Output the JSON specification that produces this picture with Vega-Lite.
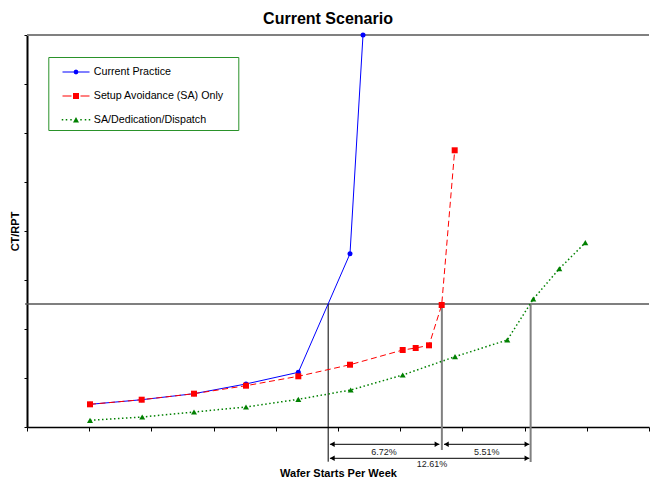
{
  "$schema": "https://vega.github.io/schema/vega-lite/v6.json",
  "width": 622,
  "height": 392,
  "autosize": {"type": "none"},
  "padding": {"left": 27, "top": 35, "right": 1, "bottom": 52},
  "background": "white",
  "title": {"text": "Current Scenario", "font": "Liberation Sans", "fontSize": 16, "fontWeight": "bold", "color": "black", "offset": 6, "anchor": "middle", "dx": -10},
  "config": {
    "view": {"stroke": null},
    "font": "Liberation Sans",
    "axis": {"grid": false, "labels": false, "domainColor": "black", "tickColor": "black", "titleFont": "Liberation Sans", "titleFontWeight": "bold", "titleFontSize": 11, "titleColor": "black"}
  },
  "datasets": {
    "series": [
      {"series": "Current Practice", "x": 101.3, "y": 4.63},
      {"series": "Current Practice", "x": 184.4, "y": 5.57},
      {"series": "Current Practice", "x": 268.5, "y": 6.8},
      {"series": "Current Practice", "x": 352.1, "y": 8.78},
      {"series": "Current Practice", "x": 436.2, "y": 11.16},
      {"series": "Current Practice", "x": 519.3, "y": 35.37},
      {"series": "Current Practice", "x": 540.2, "y": 80},
      {"series": "Setup Avoidance (SA) Only", "x": 101.3, "y": 4.63},
      {"series": "Setup Avoidance (SA) Only", "x": 184.4, "y": 5.57},
      {"series": "Setup Avoidance (SA) Only", "x": 268.5, "y": 6.8},
      {"series": "Setup Avoidance (SA) Only", "x": 352.1, "y": 8.43},
      {"series": "Setup Avoidance (SA) Only", "x": 436.2, "y": 10.35},
      {"series": "Setup Avoidance (SA) Only", "x": 519.3, "y": 12.71},
      {"series": "Setup Avoidance (SA) Only", "x": 604, "y": 15.71},
      {"series": "Setup Avoidance (SA) Only", "x": 624.9, "y": 16.12},
      {"series": "Setup Avoidance (SA) Only", "x": 646.3, "y": 16.67},
      {"series": "Setup Avoidance (SA) Only", "x": 666.7, "y": 24.9},
      {"series": "Setup Avoidance (SA) Only", "x": 687.6, "y": 56.47},
      {"series": "SA/Dedication/Dispatch", "x": 101.3, "y": 1.37},
      {"series": "SA/Dedication/Dispatch", "x": 185.2, "y": 2.04},
      {"series": "SA/Dedication/Dispatch", "x": 268.5, "y": 3.06},
      {"series": "SA/Dedication/Dispatch", "x": 352.1, "y": 4.08},
      {"series": "SA/Dedication/Dispatch", "x": 436.2, "y": 5.65},
      {"series": "SA/Dedication/Dispatch", "x": 520.4, "y": 7.55},
      {"series": "SA/Dedication/Dispatch", "x": 604, "y": 10.61},
      {"series": "SA/Dedication/Dispatch", "x": 688.1, "y": 14.35},
      {"series": "SA/Dedication/Dispatch", "x": 772.2, "y": 17.76},
      {"series": "SA/Dedication/Dispatch", "x": 814, "y": 26.12},
      {"series": "SA/Dedication/Dispatch", "x": 855.8, "y": 32.3},
      {"series": "SA/Dedication/Dispatch", "x": 897.6, "y": 37.61}
    ],
    "frame": [{"x": 0, "x2": 1000, "y": 80}],
    "threshold": [{"x": -3, "x2": 1000, "y": 25.1}],
    "crossings": [
      {"series": "Current Practice", "x": 484.2, "y": 25.1, "y2": -7.08},
      {"series": "Setup Avoidance (SA) Only", "x": 667, "y": 25.1, "y2": -4.69},
      {"series": "SA/Dedication/Dispatch", "x": 809.7, "y": 25.1, "y2": -7.14}
    ],
    "spans": [
      {"x": 487, "x2": 663, "y": -3.53},
      {"x": 670.4, "x2": 807.6, "y": -3.53},
      {"x": 487, "x2": 807.6, "y": -6.39}
    ],
    "arrowheads": [
      {"x": 487, "y": -3.53, "dir": "left"},
      {"x": 663, "y": -3.53, "dir": "right"},
      {"x": 670.4, "y": -3.53, "dir": "left"},
      {"x": 807.6, "y": -3.53, "dir": "right"},
      {"x": 487, "y": -6.39, "dir": "left"},
      {"x": 807.6, "y": -6.39, "dir": "right"}
    ],
    "spanLabels": [
      {"x": 574, "y": -5.1, "label": "6.72%"},
      {"x": 739, "y": -5.1, "label": "5.51%"},
      {"x": 651, "y": -7.55, "label": "12.61%"}
    ]
  },
  "encoding": {
    "x": {"field": "x", "type": "quantitative", "scale": {"domain": [0, 1000], "nice": false, "zero": false},
          "axis": {"title": "Wafer Starts Per Week", "values": [0, 100, 200, 300, 400, 500, 600, 700, 800, 900, 1000], "tickSize": 4, "domainWidth": 1.5, "titlePadding": 36}},
    "y": {"field": "y", "type": "quantitative", "scale": {"domain": [0, 80], "nice": false, "zero": false},
          "axis": {"title": "CT/RPT", "values": [0, 10, 20, 30, 40, 50, 60, 70, 80], "tickSize": 3, "domainWidth": 2, "titlePadding": 3}}
  },
  "layer": [
    {
      "data": {"name": "frame"},
      "mark": {"type": "rule", "stroke": "#808080", "strokeWidth": 2, "clip": false},
      "encoding": {"x2": {"field": "x2"}}
    },
    {
      "data": {"name": "threshold"},
      "mark": {"type": "rule", "stroke": "#555555", "strokeWidth": 1.5, "clip": false},
      "encoding": {"x2": {"field": "x2"}}
    },
    {
      "data": {"name": "crossings"},
      "transform": [{"filter": "datum.series === 'Current Practice'"}],
      "mark": {"type": "rule", "stroke": "black", "strokeWidth": 1, "clip": false},
      "encoding": {"y2": {"field": "y2"}}
    },
    {
      "data": {"name": "crossings"},
      "transform": [{"filter": "datum.series !== 'Current Practice'"}],
      "mark": {"type": "rule", "stroke": "#808080", "strokeWidth": 2, "clip": false},
      "encoding": {"y2": {"field": "y2"}}
    },
    {
      "data": {"name": "spans"},
      "mark": {"type": "rule", "stroke": "black", "strokeWidth": 1, "clip": false},
      "encoding": {"x2": {"field": "x2"}}
    },
    {
      "data": {"name": "arrowheads"},
      "transform": [{"filter": "datum.dir === 'left'"}],
      "mark": {"type": "point", "shape": "triangle-left", "filled": true, "color": "black", "size": 30, "opacity": 1, "xOffset": 2.4, "clip": false}
    },
    {
      "data": {"name": "arrowheads"},
      "transform": [{"filter": "datum.dir === 'right'"}],
      "mark": {"type": "point", "shape": "triangle-right", "filled": true, "color": "black", "size": 30, "opacity": 1, "xOffset": -2.4, "clip": false}
    },
    {
      "data": {"name": "spanLabels"},
      "mark": {"type": "text", "font": "Liberation Sans", "fontSize": 9, "color": "#222222", "align": "center", "baseline": "middle", "clip": false},
      "encoding": {"text": {"field": "label"}}
    },
    {
      "data": {"name": "series"},
      "transform": [{"filter": "datum.series === 'Current Practice'"}],
      "mark": {"type": "line", "color": "#0000ff", "strokeWidth": 1, "clip": false}
    },
    {
      "data": {"name": "series"},
      "transform": [{"filter": "datum.series === 'Setup Avoidance (SA) Only'"}],
      "mark": {"type": "line", "color": "#ff0000", "strokeWidth": 1, "strokeDash": [6, 3.5], "clip": false}
    },
    {
      "data": {"name": "series"},
      "transform": [{"filter": "datum.series === 'SA/Dedication/Dispatch'"}],
      "mark": {"type": "line", "color": "#008000", "strokeWidth": 1.5, "strokeDash": [1.5, 2.5], "clip": false}
    },
    {
      "data": {"name": "series"},
      "transform": [{"filter": "datum.series === 'Current Practice'"}],
      "mark": {"type": "point", "shape": "circle", "filled": true, "color": "#0000ff", "size": 25, "opacity": 1, "clip": false}
    },
    {
      "data": {"name": "series"},
      "transform": [{"filter": "datum.series === 'Setup Avoidance (SA) Only'"}],
      "mark": {"type": "point", "shape": "square", "filled": true, "color": "#ff0000", "size": 36, "opacity": 1, "clip": false}
    },
    {
      "data": {"name": "series"},
      "transform": [{"filter": "datum.series === 'SA/Dedication/Dispatch'"}],
      "mark": {"type": "point", "shape": "triangle-up", "filled": true, "color": "#008000", "size": 36, "opacity": 1, "clip": false}
    },
    {
      "data": {"name": "series"},
      "mark": {"type": "point", "filled": true, "opacity": 1, "xOffset": 5000, "clip": false},
      "encoding": {
        "color": {"field": "series", "type": "nominal",
          "scale": {"domain": ["Current Practice", "Setup Avoidance (SA) Only", "SA/Dedication/Dispatch"], "range": ["#0000ff", "#ff0000", "#008000"]},
          "legend": {
            "title": null, "orient": "none", "legendX": 21.3, "legendY": 22, "padding": 5,
            "strokeColor": "#2a922a", "fillColor": "white",
            "labelFont": "Liberation Sans", "labelFontSize": 10.7, "labelColor": "black", "labelOffset": 7.8, "labelLimit": 300,
            "symbolSize": 400, "symbolOffset": 12.7, "rowPadding": 8.9, "symbolStrokeWidth": 0
          }},
        "shape": {"field": "series", "type": "nominal",
          "scale": {"domain": ["Current Practice", "Setup Avoidance (SA) Only", "SA/Dedication/Dispatch"],
                    "range": [
                      "M15.64,0M-1.35,-0.05H1.35V0.05H-1.35ZM0.25,0L0.177,0.177L0,0.25L-0.177,0.177L-0.25,0L-0.177,-0.177L0,-0.25L0.177,-0.177Z",
                      "M15.64,0M-1.35,-0.05H-0.45V0.05H-1.35ZM0.45,-0.05H1.35V0.05H0.45ZM-0.3,-0.3H0.3V0.3H-0.3Z",
                      "M15.64,0M-1.425,-0.075H-1.275V0.075H-1.425ZM-1.025,-0.075H-0.875V0.075H-1.025ZM-0.575,-0.075H-0.425V0.075H-0.575ZM0.425,-0.075H0.575V0.075H0.425ZM0.875,-0.075H1.025V0.075H0.875ZM1.275,-0.075H1.425V0.075H1.275ZM0,-0.27L0.3,0.27H-0.3Z"
                    ]}, "legend": null}
      }
    }
  ]
}
